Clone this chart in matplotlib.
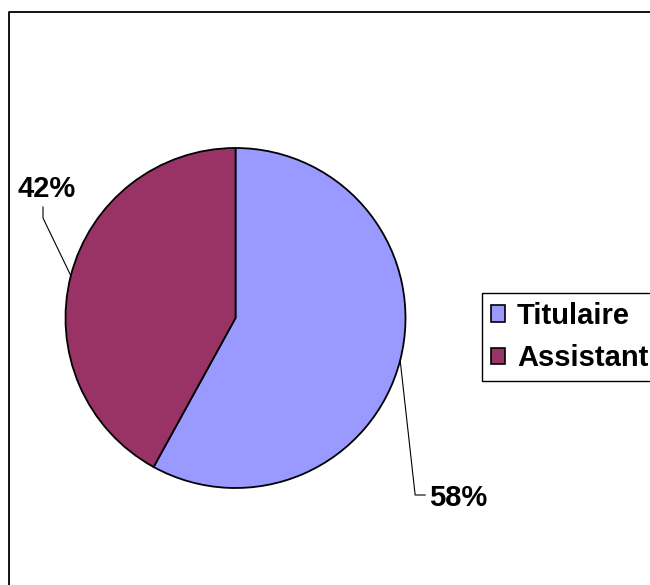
import numpy as np
import matplotlib
matplotlib.use("Agg")
import matplotlib.pyplot as plt
from matplotlib.patches import Patch

categories = ["Titulaire", "Assistant"]
values = [58, 42]
colors = ["#9999FF", "#993366"]
labels = ["58%", "42%"]

W, H = 650, 585
fig = plt.figure(figsize=(W / 100, H / 100), dpi=100)
ax = fig.add_axes([0, 0, 1, 1])

cx, cy, r = 235.5, H - 318, 170
wedges, _ = ax.pie(values, colors=colors, startangle=90, counterclock=False,
                   center=(cx, cy), radius=r, frame=True,
                   wedgeprops=dict(edgecolor="black", linewidth=1.3))
ax.set_xlim(0, W)
ax.set_ylim(0, H)
ax.set_aspect("equal")
ax.axis("off")

# border (extends beyond right/bottom)
ax.plot([9, 9, W + 5], [-5, H - 12, H - 12], color="black", lw=1.3, clip_on=False)

font = dict(family=["Liberation Sans", "DejaVu Sans"], fontweight="bold", fontsize=21)

# label 58%
w = wedges[0]
ang = np.deg2rad((w.theta1 + w.theta2) / 2)
p0 = (cx + r * np.cos(ang), cy + r * np.sin(ang))
ax.plot([p0[0], p0[0] + 15, p0[0] + 25], [p0[1], H - 495, H - 495], color="black", lw=0.8)
ax.text(p0[0] + 29, H - 498, labels[0], ha="left", va="center", **font)

# label 42%
w = wedges[1]
ang = np.deg2rad((w.theta1 + w.theta2) / 2)
p0 = (cx + r * np.cos(ang), cy + r * np.sin(ang))
ax.plot([p0[0], 43, 43], [p0[1], H - 218, H - 207], color="black", lw=0.8)
ax.text(47, H - 189, labels[1], ha="center", va="center", **font)

handles = [Patch(facecolor=c, edgecolor="black", linewidth=1.2) for c in colors]
leg = fig.legend(handles, categories, loc="upper left", mode="expand",
                 bbox_to_anchor=(482 / W, 1 - 293 / H, 200 / W, 0),
                 prop=dict(family=["Liberation Sans", "DejaVu Sans"], weight="bold", size=21),
                 frameon=True, fancybox=False, edgecolor="black", framealpha=1,
                 handlelength=0.5, handleheight=0.5, handletextpad=0.4,
                 labelspacing=0.5, borderpad=0.3, borderaxespad=0)
leg.get_frame().set_linewidth(1.0)

fig.savefig("out.png", dpi=100, facecolor="white")
